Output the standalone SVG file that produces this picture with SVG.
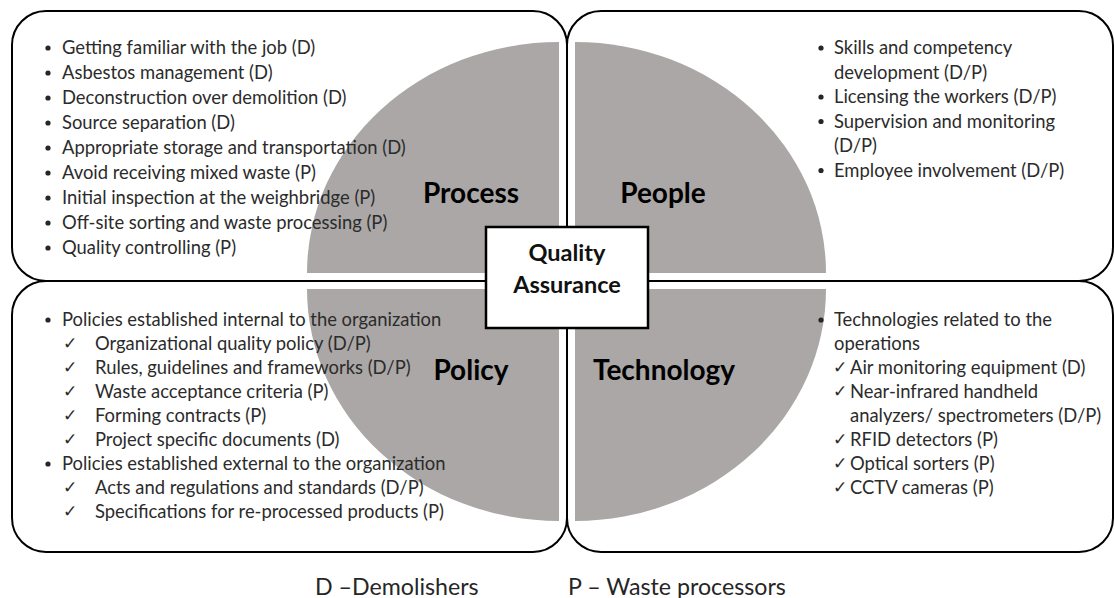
<svg xmlns="http://www.w3.org/2000/svg" width="1114" height="598" viewBox="0 0 1114 598">
  <style>
    .box { fill: #ffffff; stroke: #000000; stroke-width: 2; }
    .quad { fill: #aaa7a6; }
    .txt { font-family: Lato, "Open Sans", sans-serif; font-size: 18.4px; fill: #2b2b2b; }
    .title { font-family: Lato, "Open Sans", sans-serif; font-size: 28px; font-weight: bold; fill: #000000; text-anchor: middle; }
    .chk { font-family: "DejaVu Sans", sans-serif; font-size: 17px; fill: #2b2b2b; }
    .dot { fill: #262626; }
    .center { fill: #ffffff; stroke: #000000; stroke-width: 2.5; }
    .ctext { font-family: Lato, "Open Sans", sans-serif; font-size: 23.5px; font-weight: bold; fill: #111111; text-anchor: middle; }
    .legend { font-family: Lato, "Open Sans", sans-serif; font-size: 23.2px; fill: #262626; }
  </style>

  <g id="process">
    <rect class="box" x="12" y="11" width="555" height="270" rx="34" ry="34"/>
    <path class="quad" d="M559,273 L307,273 A252,231 0 0 1 559,42 Z"/>
    <text class="title" x="471" y="203">Process</text>
    <g class="txt">
      <circle class="dot" cx="48" cy="48" r="2.6"/>
      <text x="62" y="54">Getting familiar with the job (D)</text>
      <circle class="dot" cx="48" cy="73" r="2.6"/>
      <text x="62" y="79">Asbestos management (D)</text>
      <circle class="dot" cx="48" cy="98" r="2.6"/>
      <text x="62" y="104">Deconstruction over demolition (D)</text>
      <circle class="dot" cx="48" cy="123" r="2.6"/>
      <text x="62" y="129">Source separation (D)</text>
      <circle class="dot" cx="48" cy="148" r="2.6"/>
      <text x="62" y="154">Appropriate storage and transportation (D)</text>
      <circle class="dot" cx="48" cy="173" r="2.6"/>
      <text x="62" y="179">Avoid receiving mixed waste (P)</text>
      <circle class="dot" cx="48" cy="198" r="2.6"/>
      <text x="62" y="204">Initial inspection at the weighbridge (P)</text>
      <circle class="dot" cx="48" cy="223" r="2.6"/>
      <text x="62" y="229">Off-site sorting and waste processing (P)</text>
      <circle class="dot" cx="48" cy="248" r="2.6"/>
      <text x="62" y="254">Quality controlling (P)</text>
    </g>
  </g>

  <g id="people">
    <rect class="box" x="567" y="11" width="546" height="270" rx="34" ry="34"/>
    <path class="quad" d="M575,273 L575,42 A251,231 0 0 1 826,273 Z"/>
    <text class="title" x="663" y="203">People</text>
    <g class="txt">
      <circle class="dot" cx="821" cy="48" r="2.6"/>
      <text x="834" y="54">Skills and competency</text>
      <text x="834" y="78.5">development (D/P)</text>
      <circle class="dot" cx="821" cy="97" r="2.6"/>
      <text x="834" y="103">Licensing the workers (D/P)</text>
      <circle class="dot" cx="821" cy="121.5" r="2.6"/>
      <text x="834" y="127.5">Supervision and monitoring</text>
      <text x="834" y="152">(D/P)</text>
      <circle class="dot" cx="821" cy="170.5" r="2.6"/>
      <text x="834" y="176.5">Employee involvement (D/P)</text>
    </g>
  </g>

  <g id="policy">
    <rect class="box" x="12" y="281" width="555" height="271" rx="34" ry="34"/>
    <path class="quad" d="M559,289 L559,521 A252,232 0 0 1 307,289 Z"/>
    <text class="title" x="471" y="380">Policy</text>
    <g class="txt">
      <circle class="dot" cx="48" cy="320" r="2.6"/>
      <text x="62" y="326">Policies established internal to the organization</text>
      <text class="chk" x="63" y="349">✓</text>
      <text x="95" y="350">Organizational quality policy (D/P)</text>
      <text class="chk" x="63" y="373">✓</text>
      <text x="95" y="374">Rules, guidelines and frameworks (D/P)</text>
      <text class="chk" x="63" y="397">✓</text>
      <text x="95" y="398">Waste acceptance criteria (P)</text>
      <text class="chk" x="63" y="421">✓</text>
      <text x="95" y="422">Forming contracts (P)</text>
      <text class="chk" x="63" y="445">✓</text>
      <text x="95" y="446">Project specific documents (D)</text>
      <circle class="dot" cx="48" cy="464" r="2.6"/>
      <text x="62" y="470">Policies established external to the organization</text>
      <text class="chk" x="63" y="493">✓</text>
      <text x="95" y="494">Acts and regulations and standards (D/P)</text>
      <text class="chk" x="63" y="517">✓</text>
      <text x="95" y="518">Specifications for re-processed products (P)</text>
    </g>
  </g>

  <g id="technology">
    <rect class="box" x="567" y="281" width="546" height="271" rx="34" ry="34"/>
    <path class="quad" d="M575,289 L826,289 A251,232 0 0 1 575,521 Z"/>
    <text class="title" x="664" y="380">Technology</text>
    <g class="txt">
      <circle class="dot" cx="821" cy="320" r="2.6"/>
      <text x="834" y="326">Technologies related to the</text>
      <text x="834" y="350">operations</text>
      <text class="chk" x="833" y="373">✓</text>
      <text x="850" y="374">Air monitoring equipment (D)</text>
      <text class="chk" x="833" y="397">✓</text>
      <text x="850" y="398">Near-infrared handheld</text>
      <text x="850" y="422">analyzers/ spectrometers (D/P)</text>
      <text class="chk" x="833" y="445">✓</text>
      <text x="850" y="446">RFID detectors (P)</text>
      <text class="chk" x="833" y="469">✓</text>
      <text x="850" y="470">Optical sorters (P)</text>
      <text class="chk" x="833" y="493">✓</text>
      <text x="850" y="494">CCTV cameras (P)</text>
    </g>
  </g>

  <g id="quality-assurance">
    <rect class="center" x="486" y="227" width="162" height="101"/>
    <text class="ctext" x="567" y="261">Quality</text>
    <text class="ctext" x="567" y="293">Assurance</text>
  </g>

  <g id="legend">
    <text class="legend" x="315" y="595">D –Demolishers</text>
    <text class="legend" x="568" y="595">P – Waste processors</text>
  </g>
</svg>
